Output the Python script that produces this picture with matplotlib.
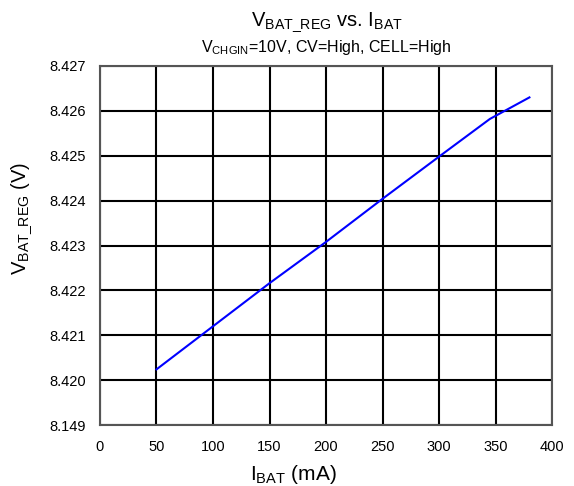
import numpy as np
import matplotlib.pyplot as plt

plt.rcParams['font.family'] = ['Liberation Sans', 'DejaVu Sans']
plt.rcParams['mathtext.fontset'] = 'custom'
plt.rcParams['mathtext.rm'] = 'Liberation Sans'

# VBAT_REG vs IBAT
i_bat = [50, 100, 150, 200, 250, 300, 345, 380]
v_bat_reg = [8.42024, 8.42120, 8.42216, 8.42308, 8.42404, 8.42498, 8.42582, 8.42630]

x_ticks = [0, 50, 100, 150, 200, 250, 300, 350, 400]
y_ticks = [8.419, 8.420, 8.421, 8.422, 8.423, 8.424, 8.425, 8.426, 8.427]
y_labels = ['8.149', '8.420', '8.421', '8.422', '8.423', '8.424', '8.425', '8.426', '8.427']

fig = plt.figure(figsize=(5.74, 4.86), dpi=100)
ax = fig.add_axes([0.1742, 0.1255, 0.7875, 0.7387])

ax.plot(i_bat, v_bat_reg, color='#0000ff', linewidth=1.5, zorder=3)

ax.set_xlim(0, 400)
ax.set_ylim(8.419, 8.427)
ax.set_xticks(x_ticks)
ax.set_yticks(y_ticks)
ax.set_yticklabels(y_labels)
ax.tick_params(length=0, labelsize=10.5)
ax.tick_params(axis='y', pad=10)
ax.tick_params(axis='x', pad=11)
ax.grid(True, color='black', linewidth=1.5)
for s in ax.spines.values():
    s.set_color('#555555')
    s.set_linewidth(1.5)

ax.set_xlabel(r'$\mathregular{I_{BAT}}$ (mA)', fontsize=15)
ax.xaxis.set_label_coords(0.427, -0.105)
ax.set_ylabel(r'$\mathregular{V_{BAT\_REG}}$ (V)', fontsize=14.5)
ax.yaxis.set_label_coords(-0.145, 0.575)

fig.text(0.5693, 0.955, r'$\mathregular{V_{BAT\_REG}}$ vs. $\mathregular{I_{BAT}}$',
         ha='center', va='center', fontsize=14.5)
fig.text(0.5693, 0.903, r'$\mathregular{V_{CHGIN}}$=10V, CV=High, CELL=High',
         ha='center', va='center', fontsize=11.5)

fig.savefig('out.png', dpi=100)
